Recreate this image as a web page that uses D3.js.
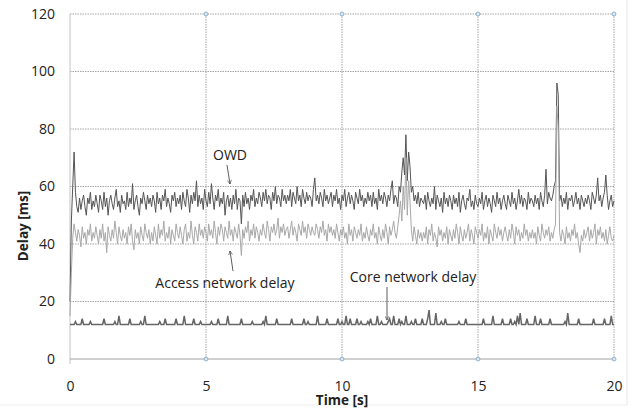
<!DOCTYPE html>
<html>
<head>
<meta charset="utf-8">
<script src="https://cdn.jsdelivr.net/npm/d3@7"></script>
<style>
  body { margin: 0; background: #fff; }
  svg text { font-family: "Open Sans", sans-serif; fill: #222; }
</style>
</head>
<body>
<div id="chart"></div>
<script>
// sample spacing of the traces, in seconds
var step = 0.05

var xTicks = [0, 5, 10, 15, 20]
var yTicks = [0, 20, 40, 60, 80, 100, 120]

// one-way delay, one row per second
var owd = [
  20,48,60,72,58,53,51,56,52,55,57,53,50,56,54,58,52,55,53,57,
  54,51,57,55,52,58,53,56,50,55,57,54,52,56,59,53,55,51,57,54,
  55,52,58,53,56,54,61,52,55,57,53,50,56,54,58,55,52,57,54,56,
  53,57,55,51,58,54,56,52,57,55,59,53,56,54,51,57,55,58,53,56,
  54,57,52,58,55,53,59,56,51,57,54,58,55,62,53,57,54,56,52,59,
  55,53,58,54,61,56,52,57,55,59,53,56,54,58,50,55,57,53,56,52,
  57,54,59,52,56,55,47,57,53,58,54,56,52,57,55,59,53,56,54,58,
  56,53,58,55,59,54,57,56,52,58,55,60,54,57,56,53,59,55,57,54,
  57,55,59,53,58,56,54,60,55,57,53,59,56,54,58,55,57,56,53,59,
  63,55,57,54,58,56,53,59,55,57,54,56,58,53,57,55,59,54,56,52,
  57,55,59,53,56,58,54,57,55,52,58,56,54,59,55,57,53,56,54,58,
  55,57,53,58,54,56,52,59,55,57,54,58,56,53,57,55,59,62,54,57,
  56,53,60,58,65,70,64,78,62,72,67,58,60,55,57,54,58,53,56,55,
  54,57,52,58,55,53,56,54,60,52,57,55,53,56,51,58,54,56,53,57,
  55,52,57,54,56,53,58,51,55,57,54,52,56,55,59,53,55,52,57,54,
  53,56,54,58,52,55,57,53,56,54,51,57,55,53,58,54,56,52,55,57,
  54,52,57,55,53,58,54,56,52,55,59,54,57,53,56,55,52,58,54,56,
  55,53,57,54,56,52,58,55,53,57,66,54,58,56,55,57,60,62,96,92,
  55,57,53,56,54,58,52,56,55,57,53,55,58,54,56,52,57,55,53,56,
  54,57,55,52,58,56,54,57,63,55,57,53,56,58,64,57,52,55,57,53,
  55
]

// access network delay
var access = [
  15,30,42,47,44,41,45,43,39,46,42,44,40,45,43,47,41,44,42,46,
  43,40,45,42,47,41,44,37,46,43,41,45,42,48,44,40,46,43,41,45,
  42,44,40,46,43,47,41,38,45,42,44,40,46,43,41,47,44,42,45,40,
  44,41,46,43,40,47,42,45,43,48,41,44,42,46,40,45,43,41,47,44,
  42,46,43,40,45,47,41,44,42,48,43,40,46,44,41,47,43,45,42,46,
  44,41,47,43,45,42,48,44,40,46,43,47,45,41,46,44,42,48,43,45,
  41,46,44,42,47,43,36,45,42,46,44,48,41,45,43,47,42,46,44,41,
  45,43,47,44,42,48,45,41,46,44,47,43,45,49,42,46,44,47,43,45,
  46,42,45,48,43,46,44,41,47,45,43,48,44,46,42,47,45,43,46,44,
  43,47,45,42,46,44,48,43,45,41,47,44,46,43,45,42,47,44,41,45,
  43,46,42,44,40,47,43,45,41,46,44,42,45,43,47,41,44,42,46,43,
  41,45,43,47,42,44,40,46,43,41,45,42,47,44,40,46,43,45,48,44,
  42,46,50,55,48,60,52,70,50,62,55,45,41,46,43,40,45,42,44,41,
  44,42,46,40,45,43,47,41,44,42,39,46,43,45,41,44,42,46,40,45,
  43,41,45,42,47,44,40,46,43,41,45,42,44,47,41,45,43,40,46,44,
  42,45,43,47,41,44,42,46,40,45,43,41,47,44,42,46,43,45,41,44,
  46,43,41,45,42,47,44,40,46,43,45,41,44,42,47,43,45,41,44,42,
  45,42,44,40,46,43,41,47,44,42,45,43,46,41,44,42,45,47,88,80,
  44,41,45,43,40,46,42,44,41,45,43,47,42,44,40,37,43,41,45,42,
  44,46,41,45,42,44,47,40,45,43,46,42,44,41,45,40,43,46,42,41,
  43
]

// core network delay
var core = [
  12,12,12,12,13,12,12,12,12,14,12,12,12,12,12,13,12,12,12,12,
  12,12,12,12,12,14,12,12,12,12,12,12,12,13,12,12,15,12,12,12,
  12,12,12,12,14,12,12,12,12,12,12,12,13,12,12,15,12,12,12,12,
  12,12,12,12,12,12,13,12,12,12,14,12,12,12,12,12,12,12,14,12,
  12,12,12,12,15,12,12,12,12,12,12,14,12,12,12,12,13,12,12,12,
  12,12,12,12,13,12,12,12,12,14,12,12,12,12,12,12,15,12,12,12,
  12,12,12,12,12,12,14,12,12,12,12,12,12,12,13,12,12,12,12,12,
  12,12,13,12,15,12,12,12,12,12,12,12,14,12,12,12,12,12,12,12,
  12,12,12,14,12,12,12,12,12,12,12,12,14,12,12,13,12,12,12,12,
  12,12,15,12,12,12,12,12,12,14,12,12,12,12,12,12,12,14,12,12,
  13,12,12,15,12,12,14,12,12,12,12,14,12,12,13,12,12,12,12,13,
  12,14,12,12,12,12,15,12,12,13,12,12,12,12,13,14,12,12,15,12,
  12,12,14,12,13,12,12,15,12,12,12,13,12,12,14,12,12,12,12,14,
  12,12,12,14,17,12,12,12,12,16,12,12,12,13,12,12,14,12,12,12,
  12,12,12,12,12,12,13,12,12,12,12,14,12,12,12,12,12,12,12,12,
  12,12,12,12,14,12,12,12,12,12,12,15,12,12,12,12,12,12,14,12,
  12,12,12,12,14,12,12,13,12,15,12,16,12,12,12,12,14,12,12,12,
  12,12,15,12,12,12,14,12,12,12,12,12,12,14,12,12,12,12,12,12,
  12,12,12,12,13,12,16,12,12,12,12,12,12,12,14,12,12,12,12,12,
  12,12,12,12,12,14,12,12,12,12,12,12,12,14,12,12,12,12,15,12,
  12
]

var svg = d3.select("#chart").append("svg")
    .attr("width", 630)
    .attr("height", 408)

var plotL = 70, plotR = 614, plotT = 14, plotB = 359

var xs = d3.scaleLinear().domain([0, 20]).range([plotL, plotR])
var ys = d3.scaleLinear().domain([0, 120]).range([plotB, plotT])

// faint outer frame on the right / bottom
svg.append("line").attr("x1", 627).attr("x2", 627).attr("y1", 0).attr("y2", 405)
    .attr("stroke", "#e6e6e6")
svg.append("line").attr("x1", 0).attr("x2", 627).attr("y1", 405).attr("y2", 405)
    .attr("stroke", "#eeeeee")

// gridlines
svg.append("g").selectAll("line")
    .data(yTicks.filter(d => d > 0))
    .enter().append("line")
    .attr("x1", plotL).attr("x2", plotR)
    .attr("y1", d => ys(d)).attr("y2", d => ys(d))
    .attr("stroke", "#a6a6a6")
    .attr("stroke-dasharray", "1.5,1")
svg.append("g").selectAll("line")
    .data(xTicks.filter(d => d > 0))
    .enter().append("line")
    .attr("x1", d => xs(d)).attr("x2", d => xs(d))
    .attr("y1", plotT).attr("y2", plotB)
    .attr("stroke", "#a6a6a6")
    .attr("stroke-dasharray", "1.5,1")

// axis lines
svg.append("line").attr("x1", plotL).attr("x2", plotL).attr("y1", plotT).attr("y2", plotB + 5)
    .attr("stroke", "#c4c4c4")
svg.append("line").attr("x1", plotL).attr("x2", plotR).attr("y1", plotB).attr("y2", plotB)
    .attr("stroke", "#a0a0a0")

// tick labels
svg.append("g")
    .attr("transform", "translate(" + plotL + ",0)")
    .call(d3.axisLeft(ys).tickValues(yTicks).tickSize(0).tickPadding(15))
svg.append("g")
    .attr("transform", "translate(0," + plotB + ")")
    .call(d3.axisBottom(xs).tickValues(xTicks).tickSize(0).tickPadding(22))
svg.selectAll(".domain").remove()
svg.selectAll(".tick text")
    .style("font-family", "'Open Sans', sans-serif")
    .style("font-size", "14px")
    .style("fill", "#222")

// series
var line = d3.line()
    .x((d, i) => xs(i * step))
    .y(d => ys(d))

svg.append("path").datum(owd)
    .attr("d", line)
    .attr("fill", "none")
    .attr("stroke", "#555555")
    .attr("stroke-width", 1)
svg.append("path").datum(access)
    .attr("d", line)
    .attr("fill", "none")
    .attr("stroke", "#a8a8a8")
    .attr("stroke-width", 1)
svg.append("path").datum(core)
    .attr("d", line)
    .attr("fill", "none")
    .attr("stroke", "#666666")
    .attr("stroke-width", 1.5)

// small marker dots on the gridline ends
var marks = xTicks.filter(d => d > 0)
svg.append("g").selectAll("circle")
    .data(marks.map(d => [d, 120]).concat(marks.map(d => [d, 0])))
    .enter().append("circle")
    .attr("cx", d => xs(d[0]))
    .attr("cy", d => ys(d[1]))
    .attr("r", 2)
    .attr("fill", "#dbe7f1")
    .attr("stroke", "#8fb3cf")
    .attr("stroke-width", 1)

// axis titles
svg.append("text")
    .attr("transform", "translate(28,226) rotate(-90)")
    .attr("text-anchor", "middle")
    .style("font-size", "13.5px")
    .style("font-weight", "bold")
    .text("Delay [ms]")
svg.append("text")
    .attr("x", xs(10))
    .attr("y", 405)
    .attr("text-anchor", "middle")
    .style("font-size", "13.5px")
    .style("font-weight", "bold")
    .text("Time [s]")

// annotations
var notes = [
  {text: "OWD", x: 230, y: 160, ax1: 227, ay1: 165, ax2: 230, ay2: 184},
  {text: "Access network delay", x: 225, y: 288, ax1: 233, ay1: 271, ax2: 230, ay2: 251},
  {text: "Core network delay", x: 413, y: 282, ax1: 387, ay1: 287, ax2: 387, ay2: 320}
]
svg.append("defs").append("marker")
    .attr("id", "arr")
    .attr("viewBox", "0 0 10 10")
    .attr("refX", 9).attr("refY", 5)
    .attr("markerWidth", 6).attr("markerHeight", 6)
    .attr("orient", "auto")
    .append("path")
    .attr("d", "M1,1 L9,5 L1,9")
    .attr("fill", "none")
    .attr("stroke", "#333")
    .attr("stroke-width", 1.2)
notes.forEach(function(n) {
    svg.append("text")
        .attr("x", n.x).attr("y", n.y)
        .attr("text-anchor", "middle")
        .style("font-size", "14px")
        .text(n.text)
    svg.append("line")
        .attr("x1", n.ax1).attr("y1", n.ay1)
        .attr("x2", n.ax2).attr("y2", n.ay2)
        .attr("stroke", "#333")
        .attr("stroke-width", 0.8)
        .attr("marker-end", "url(#arr)")
})
</script>
</body>
</html>
